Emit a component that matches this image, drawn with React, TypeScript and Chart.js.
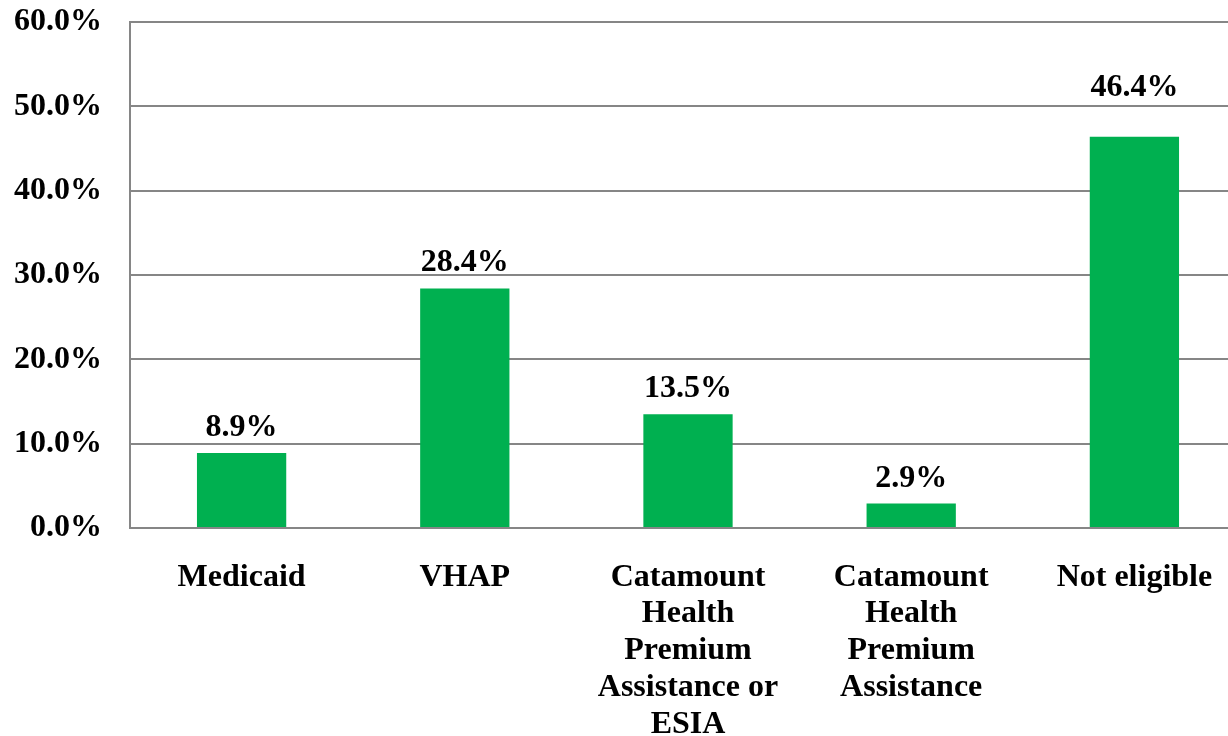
import React, { useEffect, useRef } from "react";
import { Chart, registerables } from "chart.js";

Chart.register(...registerables);

const categories: string[][] = [
  ["Medicaid"],
  ["VHAP"],
  ["Catamount", "Health", "Premium", "Assistance or", "ESIA"],
  ["Catamount", "Health", "Premium", "Assistance"],
  ["Not eligible"],
];
const values: number[] = [8.9, 28.4, 13.5, 2.9, 46.4];
const yMax = 60;
const yStep = 10;

const FONT = "'Liberation Serif', 'Times New Roman', serif";
// extra lift (px) of the value label above its bar, as placed in the original
const labelLift = [0, 0, 0, 0, 24];

const valueLabels = {
  id: "valueLabels",
  afterDatasetsDraw(chart: any) {
    const ctx = chart.ctx;
    const meta = chart.getDatasetMeta(0);
    ctx.save();
    ctx.font = `bold 32px ${FONT}`;
    ctx.fillStyle = "#000";
    ctx.textAlign = "center";
    ctx.textBaseline = "alphabetic";
    meta.data.forEach((bar: any, i: number) => {
      ctx.fillText(values[i].toFixed(1) + "%", bar.x, bar.y - 17 - (labelLift[i] || 0));
    });
    ctx.restore();
  },
};

// The original plot area runs past the right edge of the picture, so the
// canvas is wider than the visible frame and the frame clips it.
const CANVAS_W = 1246;

export default function App() {
  const ref = useRef<HTMLCanvasElement>(null);
  useEffect(() => {
    document.body.style.margin = "0";
    const chart = new Chart(ref.current!, {
      type: "bar",
      data: {
        labels: categories,
        datasets: [
          {
            data: values,
            backgroundColor: "#00B050",
            barPercentage: 0.4,
            categoryPercentage: 1,
          },
        ],
      },
      options: {
        animation: false,
        responsive: false,
        maintainAspectRatio: false,
        layout: { padding: { top: 22, right: 0, left: 0, bottom: 0 } },
        plugins: { legend: { display: false }, tooltip: { enabled: false } },
        scales: {
          x: {
            grid: { display: false, drawTicks: false },
            border: { display: true, color: "#868686", width: 2 },
            ticks: {
              color: "#000",
              padding: 31,
              maxRotation: 0,
              autoSkip: false,
              font: { family: FONT, size: 32, weight: "bold", lineHeight: 1.15 },
            },
            afterFit(scale: any) {
              scale.height = 736 - 528;
              scale.paddingLeft = 0;
              scale.paddingRight = 0;
            },
          },
          y: {
            min: 0,
            max: yMax,
            grid: { color: "#868686", lineWidth: 2, drawTicks: false },
            border: { display: true, color: "#868686", width: 2 },
            ticks: {
              stepSize: yStep,
              color: "#000",
              padding: 28,
              font: { family: FONT, size: 32, weight: "bold" },
              callback: (v: any) => Number(v).toFixed(1) + "%",
            },
            afterFit(scale: any) {
              scale.width = 130;
              scale.paddingTop = 0;
              scale.paddingBottom = 0;
            },
          },
        },
      },
      plugins: [valueLabels],
    });
    return () => chart.destroy();
  }, []);
  return (
    <div style={{ position: "fixed", left: 0, top: 0, width: 1228, height: 736, background: "#fff", overflow: "hidden" }}>
      <canvas ref={ref} width={CANVAS_W} height={736} style={{ width: CANVAS_W, height: 736, display: "block" }} />
    </div>
  );
}
